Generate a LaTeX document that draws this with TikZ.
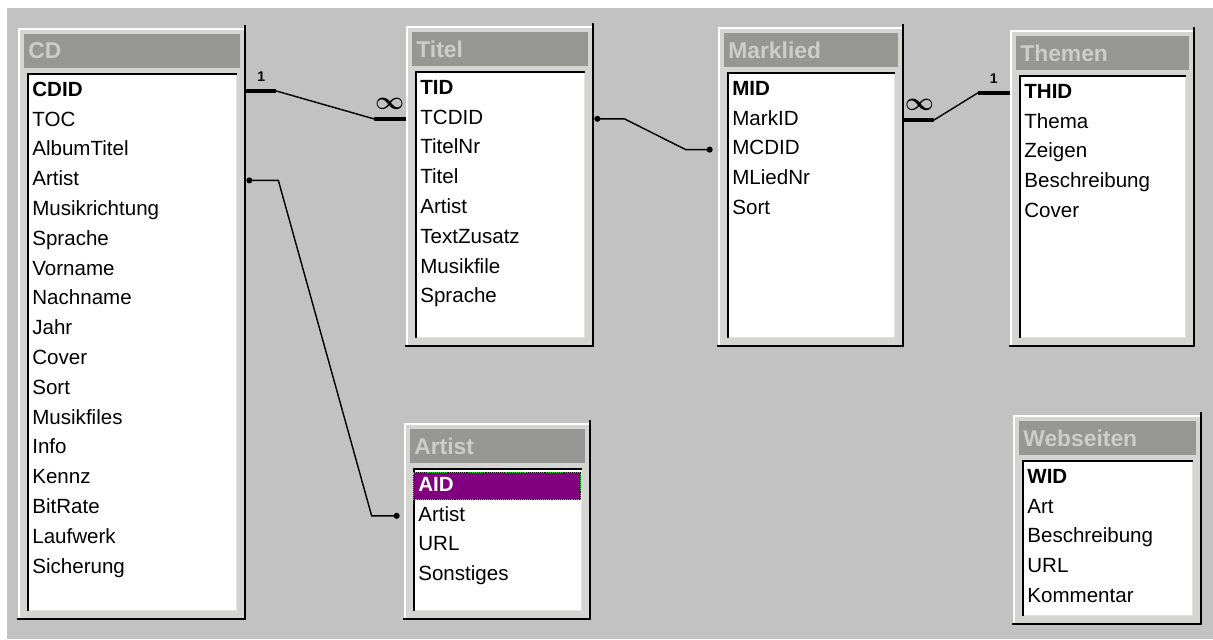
\documentclass[tikz,border=0pt]{standalone}
\usepackage{fontspec}
\setmainfont{Liberation Sans}
\usepackage{amsmath}
\usetikzlibrary{positioning,fit,calc,arrows.meta}

\definecolor{desk}{RGB}{194,194,194}
\definecolor{winfill}{RGB}{212,212,210}
\definecolor{titlefill}{RGB}{150,151,148}
\definecolor{titletext}{RGB}{204,204,202}
\definecolor{listlight}{RGB}{226,226,226}
\definecolor{selpurple}{RGB}{128,0,128}
\definecolor{focusgreen}{RGB}{40,230,40}

\newcommand{\infsym}{\mbox{\fontsize{15}{15}\selectfont\boldmath$\infty$}}

% field list window: name, x, y, width, height, title, key style, key, fields
\newcommand{\accesstable}[9]{%
  \fill[winfill] (#2,#3) rectangle ++(#4,#5);
  \draw[white, line width=1pt] (#2+1,#3+#5-2) |- (#2+#4-2,#3+1);
  \draw[black, line width=1.2pt] (#2+#4-1,#3-3) |- (#2-1,#3+#5-1);
  \fill[titlefill] (#2+6,#3+6) rectangle (#2+#4-6,#3+40);
  \node[tabtitle] (#1-title) at (#2+10,#3+23) {#6};
  \fill[white] (#2+9,#3+45) rectangle (#2+#4-9,#3+#5-9);
  \draw[listlight, line width=1pt] (#2+9,#3+#5-9.5) -| (#2+#4-9.5,#3+45);
  \draw[black, line width=1.2pt] (#2+10,#3+#5-9) |- (#2+#4-9,#3+46);
  \path (#2,#3) coordinate (#1-nw) (#2+#4,#3+#5) coordinate (#1-se);
  \node[fit=(#1-nw)(#1-se), inner sep=0pt] (#1) {};
  \node[#7] (#1-1) at (#2+14,#3+63) {#8};
  \foreach \f [count=\i from 2] in {#9}
    \node[field] (#1-\i) at ({#2+14},{#3+63+(\i-1)*29.8}) {\f};
}

\begin{document}
\begin{tikzpicture}[
    x=0.02cm, y=-0.02cm,
    field/.style={anchor=west, inner sep=0pt, font=\fontsize{11.7}{14}\selectfont, text height=1.6ex, text depth=0.45ex},
    keyfield/.style={field, font=\fontsize{11.7}{14}\selectfont\bfseries},
    selkey/.style={keyfield, text=white, fill=selpurple, draw=black, postaction={draw=focusgreen, dash pattern=on 0.6pt off 0.6pt}, inner xsep=0.1cm, xshift=-0.1cm, text width=3.14cm, minimum height=0.54cm},
    tabtitle/.style={anchor=west, inner sep=0pt, text=titletext, font=\fontsize{13}{15}\selectfont\bfseries},
    card/.style={inner sep=0pt, above=4pt, font=\fontsize{8}{9}\selectfont\bfseries},
    relline/.style={black, line width=0.8pt},
    relbar/.style={black, line width=0.09cm},
    dotends/.style={{Circle[length=0.12cm]}-{Circle[length=0.12cm]}}
]
\useasboundingbox (0,0) rectangle (1213,639);
\fill[white] (0,0) rectangle (1213,639);
\fill[desk] (7,8) rectangle (1213,639);

% Tables
\accesstable{cd}{18}{28}{228}{592}{CD}{keyfield}{CDID}{TOC,AlbumTitel,Artist,Musikrichtung,Sprache,Vorname,Nachname,Jahr,Cover,Sort,Musikfiles,Info,Kennz,BitRate,Laufwerk,Sicherung}
\accesstable{titel}{406}{26}{188}{321}{Titel}{keyfield}{TID}{TCDID,TitelNr,Titel,Artist,TextZusatz,Musikfile,Sprache}
\accesstable{marklied}{718}{27}{186}{320}{Marklied}{keyfield}{MID}{MarkID,MCDID,MLiedNr,Sort}
\accesstable{themen}{1010}{30}{185}{317}{Themen}{keyfield}{THID}{Thema,Zeigen,Beschreibung,Cover}
\accesstable{artist}{404}{423}{187}{197}{Artist}{selkey}{AID}{Artist,URL,Sonstiges}
\accesstable{webseiten}{1013}{415}{189}{210}{Webseiten}{keyfield}{WID}{Art,Beschreibung,URL,Kommentar}

% Relationships
\draw[relline] (cd.east |- cd-1) -- ++(30,0) -- ($(titel.west |- titel-2)+(-32,0)$) -- (titel.west |- titel-2);
\draw[relbar] (cd.east |- cd-1) -- ++(30,0) node[card, midway] (card-cd) {1};
\draw[relbar] (titel.west |- titel-2) -- ++(-32,0) node[card, midway] (card-titel) {\infsym};

\draw[relline, dotends, shorten >=0.1cm] (titel.east |- titel-2) -- ++(30,0) -- ($(marklied.west |- marklied-3)+(-32,0)$) -- (marklied.west |- marklied-3);

\draw[relline] (marklied.east |- marklied-2) -- ++(30,0) -- ($(themen.west |- themen-1)+(-32,0)$) -- (themen.west |- themen-1);
\draw[relbar] (marklied.east |- marklied-2) -- ++(30,0) node[card, midway] (card-marklied) {\infsym};
\draw[relbar] (themen.west |- themen-1) -- ++(-32,0) node[card, midway] (card-themen) {1};

\draw[relline, dotends, shorten >=0.08cm] (cd.east |- cd-4) -- ++(32,0) -- ($(artist.west |- artist-2)+(-32,0)$) -- (artist.west |- artist-2);

\end{tikzpicture}
\end{document}
